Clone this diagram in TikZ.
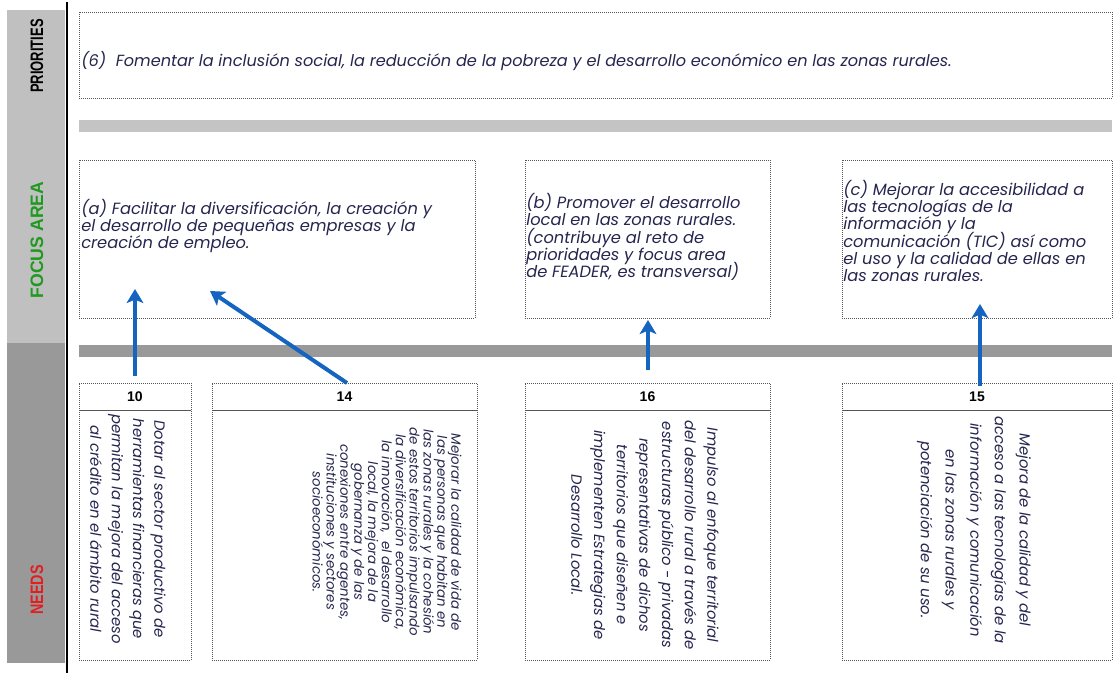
\documentclass[tikz,border=0pt]{standalone}
\usepackage{fontspec}
\setmainfont{Poppins}
\setsansfont{Liberation Sans}
\usetikzlibrary{positioning,arrows.meta}
\definecolor{sidelight}{HTML}{C0C0C0}
\definecolor{sidedark}{HTML}{999999}
\definecolor{barlight}{HTML}{C4C4C4}
\definecolor{bardark}{HTML}{999999}
\definecolor{faarrow}{HTML}{1565C0}
\definecolor{fatext}{HTML}{25254F}
\definecolor{fagreen}{HTML}{1E9A1E}
\definecolor{fared}{HTML}{E02020}
\definecolor{boxline}{HTML}{555555}
\newcommand{\px}{0.75pt}
\newcommand{\tightlines}{\lineskiplimit=-100pt\relax}

\begin{document}
\begin{tikzpicture}[x=0.75pt,y=-0.75pt,
  panel/.style={draw=boxline, densely dotted, line width=0.5pt, inner sep=0pt},
  fatxt/.style={font=\fontsize{12.2}{13}\selectfont\tightlines\itshape\color{fatext}, align=left, anchor=west, inner sep=0pt},
  needtxt/.style={font=\fontsize{11.1}{#1}\selectfont\tightlines\itshape\color{fatext}, align=center, rotate=-90, inner sep=0pt},
  numtxt/.style={font=\sffamily\bfseries\fontsize{10.5}{11}\selectfont},
  sidelbl/.style={font=\sffamily\bfseries\fontsize{13.5}{14}\selectfont, rotate=90},
  needarr/.style={-{Stealth[length=10.5pt,width=12.5pt,inset=2.5pt]}, draw=faarrow, line width=3pt},
]
\useasboundingbox (0,0) rectangle (1120,675);

% side column with the three levels
\fill[sidelight] (7,10) rectangle (65,343);
\fill[sidedark] (7,343) rectangle (65,663);
\draw[black, line width=1pt] (67,2) -- (67,673);
\node[sidelbl] (lprio) at (37,56) {\scalebox{0.72}[1]{PRIORITIES}};
\node[sidelbl, text=fagreen] (lfocus) at (37,240) {\scalebox{0.98}[1]{FOCUS AREA}};
\node[sidelbl, text=fared] (lneeds) at (37,590) {\scalebox{0.8}[1]{NEEDS}};

% priority
\node[panel, minimum width=1033*\px, minimum height=86*\px] (prio) at (595.5,55) {};
\node[fatxt, font=\fontsize{12.1}{12.75}\selectfont\itshape\color{fatext}] (prtxt) at (81,61)
  {(6)\ \ Fomentar la inclusión social, la reducción de la pobreza y el desarrollo económico en las zonas rurales.};
\fill[barlight] (79,120) rectangle (1112,132);

% focus areas
\node[panel, minimum width=396*\px, minimum height=158*\px] (fa) at (277,239) {};
\node[panel, minimum width=245*\px, minimum height=158*\px] (fb) at (647.5,239) {};
\node[panel, minimum width=270*\px, minimum height=158*\px] (fc) at (977,239) {};
\node[fatxt] (fatx) at (81,226) {(a) Facilitar la diversificación, la creación y\\el desarrollo de pequeñas empresas y la\\creación de empleo.};
\node[fatxt] (fbtx) at (526,237) {(b) Promover el desarrollo\\local en las zonas rurales.\\(contribuye al reto de\\prioridades y focus area\\de FEADER, es transversal)};
\node[fatxt] (fctx) at (843,231) {(c) Mejorar la accesibilidad a\\las tecnologías de la\\información y la\\comunicación (TIC) así como\\el uso y la calidad de ellas en\\las zonas rurales.};
\fill[bardark] (79,345) rectangle (1112,357);

% needs: header with number, body with rotated text
\foreach \nm/\cx/\w in {10/135/112, 14/344.5/265, 16/647.5/245, 15/977/270} {
  \node[panel, minimum width=\w*\px, minimum height=27*\px] (h\nm) at (\cx,396.5) {};
  \node[numtxt] at (h\nm) {\nm};
  \node[panel, minimum width=\w*\px, minimum height=250*\px] (n\nm) at (\cx,535) {};
}
\node[needtxt=16] (t10) at (128,529) {Dotar al sector productivo de\\herramientas financieras que\\permitan la mejora del acceso\\al crédito en el ámbito rural};
\node[needtxt=10.4, font=\fontsize{10}{10.4}\selectfont\tightlines\itshape\color{fatext}] (t14) at (387,532) {Mejorar la calidad de vida de\\las personas que habitan en\\las zonas rurales y la cohesión\\de estos territorios impulsando\\la diversificación económica,\\la innovación,\ \ el desarrollo\\local, la mejora de la\\gobernanza y de las\\conexiones entre agentes,\\instituciones y sectores\\socioeconómicos.};
\node[needtxt=17] (t16) at (645,535) {Impulso al enfoque territorial\\del desarrollo rural a través de\\estructuras público - privadas\\representativas de dichos\\territorios que diseñen e\\implementen Estrategias de\\Desarrollo Local.};
\node[needtxt=18.5] (t15) at (974,530) {Mejora de la calidad y del\\acceso a las tecnologías de la\\información y comunicación\\en las zonas rurales y\\potenciación de su uso.};

% arrows from needs to focus areas
\coordinate (s10) at (135,376);
\coordinate (e10) at (135,289);
\coordinate (s14) at (347,383);
\coordinate (e14) at (210,291);
\coordinate (s16) at (648,370);
\coordinate (e16) at (648,320);
\coordinate (s15) at (980,386);
\coordinate (e15) at (980,304);
\draw[needarr] (s10) -- (e10);
\draw[needarr] (s14) -- (e14);
\draw[needarr] (s16) -- (e16);
\draw[needarr] (s15) -- (e15);
\end{tikzpicture}
\end{document}
